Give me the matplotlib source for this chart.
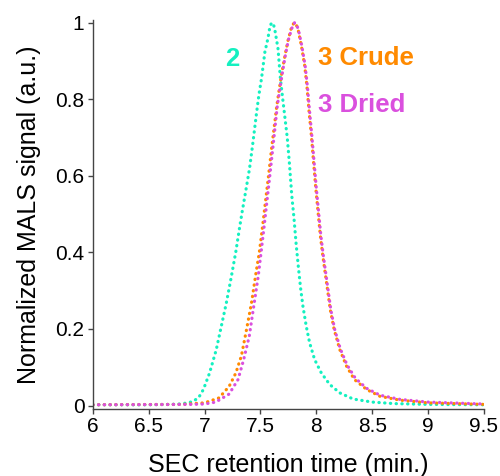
import matplotlib.pyplot as plt
import numpy as np

plt.rcParams['font.family'] = ['Liberation Sans', 'DejaVu Sans']

# Series "2"
t2 = [6.0, 6.5, 6.7, 6.78, 6.85, 6.9, 6.95, 6.99, 7.045, 7.105, 7.15, 7.195, 7.24,
      7.28, 7.313, 7.337, 7.373, 7.403, 7.432, 7.463, 7.486, 7.51, 7.54, 7.567,
      7.585, 7.60, 7.615, 7.627, 7.657, 7.68, 7.70, 7.72, 7.74, 7.76, 7.78, 7.80,
      7.82, 7.84, 7.86, 7.88, 7.91, 7.94, 7.985, 8.045, 8.12, 8.21, 8.33, 8.5,
      8.7, 9.0, 9.5]
v2 = [0.002, 0.002, 0.003, 0.004, 0.007, 0.011, 0.022, 0.042, 0.085, 0.146, 0.207,
      0.268, 0.337, 0.402, 0.464, 0.507, 0.568, 0.62, 0.685, 0.759, 0.811, 0.855,
      0.924, 0.959, 0.99, 1.0, 0.997, 0.985, 0.933, 0.85, 0.80, 0.75, 0.70, 0.63,
      0.55, 0.49, 0.42, 0.36, 0.305, 0.26, 0.207, 0.164, 0.12, 0.085, 0.055, 0.033,
      0.017, 0.009, 0.005, 0.003, 0.002]

# Series "3 Crude"
t3c = [6.0, 6.8, 7.0, 7.13, 7.22, 7.28, 7.33, 7.37, 7.42, 7.46, 7.49, 7.52, 7.545,
       7.57, 7.60, 7.62, 7.645, 7.67, 7.695, 7.72, 7.745, 7.775, 7.80, 7.815, 7.835,
       7.865, 7.895, 7.915, 7.935, 7.955, 7.975, 7.995, 8.015, 8.035, 8.055, 8.075,
       8.10, 8.125, 8.16, 8.21, 8.27, 8.34, 8.45, 8.57, 8.75, 9.0, 9.5]
v3c = [0.002, 0.003, 0.007, 0.02, 0.05, 0.085, 0.13, 0.19, 0.268, 0.346, 0.40,
       0.47, 0.533, 0.594, 0.672, 0.72, 0.78, 0.83, 0.875, 0.915, 0.952, 0.985, 1.0,
       0.998, 0.985, 0.942, 0.89, 0.837, 0.768, 0.707, 0.637, 0.568, 0.507, 0.446,
       0.398, 0.355, 0.303, 0.25, 0.198, 0.146, 0.103, 0.068, 0.042, 0.024, 0.014,
       0.007, 0.003]

# Series "3 Dried"
t3d = [6.0, 6.9, 7.0, 7.1, 7.22, 7.30, 7.35, 7.40, 7.44, 7.48, 7.505, 7.53, 7.555,
       7.58, 7.61, 7.63, 7.65, 7.675, 7.70, 7.72, 7.75, 7.78, 7.805, 7.82, 7.84,
       7.87, 7.90, 7.92, 7.94, 7.96, 7.98, 8.0, 8.02, 8.04, 8.06, 8.08, 8.105, 8.13,
       8.165, 8.215, 8.275, 8.35, 8.45, 8.57, 8.75, 9.0, 9.5]
v3d = [0.002, 0.003, 0.004, 0.009, 0.03, 0.068, 0.12, 0.181, 0.259, 0.337, 0.398,
       0.46, 0.525, 0.59, 0.67, 0.725, 0.78, 0.83, 0.875, 0.91, 0.955, 0.985, 1.0,
       0.997, 0.982, 0.94, 0.888, 0.835, 0.768, 0.705, 0.637, 0.568, 0.507, 0.446,
       0.398, 0.355, 0.303, 0.25, 0.198, 0.148, 0.106, 0.071, 0.045, 0.027, 0.016,
       0.009, 0.004]

c2 = '#14f0c0'
c3c = '#ff8a00'
c3d = '#da50de'

fig = plt.figure(figsize=(5, 4.76), dpi=100)
ax = fig.add_axes([0.1855, 0.1408, 0.7825, 0.817])

# dotted look of the densely sampled detector traces
dots = (0, (0.1, 1.7))
for t, v, c in [(t2, v2, c2), (t3c, v3c, c3c), (t3d, v3d, c3d)]:
    ax.plot(t, v, color=c, lw=2.3, linestyle=dots, dash_capstyle='round')

ax.set_xlim(6, 9.5)
ax.set_ylim(-0.009, 1.007)
ax.set_xticks(np.arange(6, 9.51, 0.5))
ax.set_xticklabels(['6', '6.5', '7', '7.5', '8', '8.5', '9', '9.5'])
ax.set_yticks([0, 0.2, 0.4, 0.6, 0.8, 1])
ax.set_yticklabels(['0', '0.2', '0.4', '0.6', '0.8', '1'])

for s in ['top', 'right']:
    ax.spines[s].set_visible(False)
for s in ['left', 'bottom']:
    ax.spines[s].set_color('#444444')
    ax.spines[s].set_linewidth(1.0)
ax.tick_params(direction='out', length=3.5, width=1, color='#444444',
               labelsize=15, pad=2.5)

ax.set_xlabel('SEC retention time (min.)', fontsize=18, labelpad=12)
ax.set_ylabel('Normalized MALS signal (a.u.)', fontsize=18, labelpad=10)

ax.text(7.25, 0.887, '2', color=c2, fontsize=18.5, fontweight='bold', ha='center')
ax.text(8.012, 0.89, '3 Crude', color=c3c, fontsize=18.5, fontweight='bold')
ax.text(8.012, 0.767, '3 Dried', color=c3d, fontsize=18.5, fontweight='bold')

fig.savefig('out.png', dpi=100)
